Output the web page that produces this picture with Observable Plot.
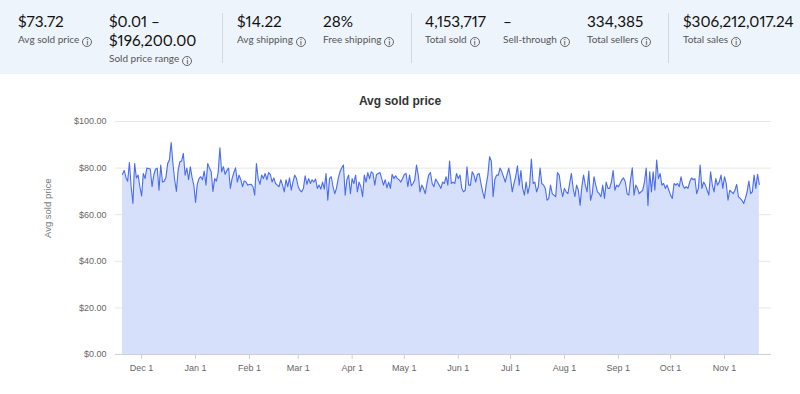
<!DOCTYPE html>
<html><head><meta charset="utf-8">
<script src="https://cdn.jsdelivr.net/npm/d3@7"></script>
<script src="https://cdn.jsdelivr.net/npm/@observablehq/plot@0.6"></script>
<style>
body{margin:0;width:800px;height:394px;overflow:hidden;background:#fff;font-family:"Liberation Sans",Arial,sans-serif;position:relative}
#hdr{position:absolute;left:0;top:0;width:800px;height:74px;background:#eef4fc;font-family:Lato,"Liberation Sans",sans-serif}
.stat{position:absolute;top:12px}
.num{font-size:15.3px;color:#111;line-height:19px;white-space:nowrap;font-variant-numeric:proportional-nums}
.lbl{font-size:10px;color:#555;white-space:nowrap;margin-top:2px;line-height:13px}
.ic{display:inline-block;box-sizing:border-box;width:10px;height:10px;border:1px solid #666;border-radius:50%;font-size:7px;line-height:8px;text-align:center;margin-left:3px;vertical-align:-2px;font-weight:bold;color:#555}
.sep{position:absolute;top:13px;width:1px;height:50px;background:#d3d8df}
#title{position:absolute;top:94px;left:0;width:800px;text-align:center;font-size:12px;font-weight:bold;color:#333}
#chart{position:absolute;left:0;top:110px}
</style></head><body>
<div id="hdr"></div>
<div id="title"></div>
<div id="chart"></div>
<script>
// ---- header stats ----
const statValues = ["$73.72", "$0.01 –\n$196,200.00", "$14.22", "28%", "4,153,717", "–", "334,385", "$306,212,017.24"];
const statLabels = ["Avg sold price", "Sold price range", "Avg shipping", "Free shipping", "Total sold", "Sell-through", "Total sellers", "Total sales"];
const statX = [18, 109, 237, 323, 425, 503, 587, 683];
const separatorX = [222, 411, 668];

// ---- chart ----
const chartTitle = "Avg sold price";
const yLabel = "Avg sold price";
const startDate = [2022, 10, 20]; // Nov 20, 2022 (UTC)
const yTicks = [0, 20, 40, 60, 80, 100];
const avgSoldPrice = [
 77.3,79,76,74.4,82.4,72,64.8,82,75.8,77,72,68,77.7,75.5,80,79.8,79.6,72,77,79.5,
 80,70.5,81.3,74,74.4,76,82,83.5,91,82,75,70,79,82.7,83,86.3,77,80,75,80.6,
 76,72.7,65.3,73,75.5,76.3,75,78.7,72.7,82,80,78.4,70,75.5,74.4,78,88.7,78.4,80.6,77.3,
 79,80,71.3,75.5,78,80.1,74,77,75,72,74.5,74,72.7,73,
 73,72,68.4,82,75.5,73,77,75.5,77.7,75,78.1,77.3,74,75.8,73.4,72.7,72,75,72.7,69.8,
 75,72,75.8,70.5,74,77,75.5,72,70.5,69.8,71.3,76.7,73,75.5,73.4,75,74,75.3,71.3,72.7,
 71,74,71,77.7,66.2,75.5,76.3,72,69,71.3,75.5,78.4,80,81.3,68.4,75,77,69,75.5,73.4,
 77,69.8,74,72,67.7,77,74,78.1,75.5,78.4,77.7,72.7,77.3,
 77.7,78.1,75.5,72.7,75,71.5,74,71.3,77.3,75.5,76.7,75.5,75,74,75.5,77.3,77.7,72,77,72.4,
 73.4,75,81.3,77,69.8,72.7,71.3,69,73.4,77,78.1,73.4,72,75.3,74,72.7,71.3,74,73.4,76.3,
 72.7,83,73.4,74,73.4,77.7,75.5,77,71.3,69.8,70.5,80.6,72.7,72.7,78.4,77,74,77.3,77.7,73.4,
 69.8,67,72.7,77,84.9,83,67.7,75,77,77,80,78.4,76.3,74,
 77,80,76,69.8,73.4,76.3,81,72.7,79,71.3,68.4,74,69,72.7,83.9,73.4,74,69.8,72,80,
 73.4,72.7,71.3,66.2,67,72.7,69,68.4,67.7,78.1,77,71.3,67.7,71.3,69.8,69,73.4,77.7,71.3,67.7,
 72.7,70.5,64,72,77,72.7,69.8,78.7,66.2,69,76.3,72.7,69.8,69,67.7,72.7,67,74,71.3,71.3,
 74,79,70.5,72.7,72,73.4,75,75.8,74,69,68.4,75,80.1,
 68.4,72.7,71.3,69,69.8,70.5,74,80,64,78.4,69.8,78.4,70.5,83.5,75.5,77.7,72.7,73.4,71.3,72.7,
 70.5,68.4,67,73.4,72.7,73.4,72,76.3,72.7,71.3,72,71.3,74,75.8,75,75.5,69,71.3,81.3,71.3,
 74,72.7,70.5,68.4,78.4,72.7,69.8,75.5,72.7,74,77,71.3,76.3,73.4,66.2,70.5,69.8,69,70.5,73,
 67.7,67,66.2,64.8,67,69.8,74.4,69,69.8,77,71.3,77.3,73
];

// header
const hdr = document.getElementById("hdr");
statValues.forEach((v, i) => {
  const d = document.createElement("div");
  d.className = "stat";
  d.style.left = statX[i] + "px";
  v.split("\n").forEach(line => {
    const n = document.createElement("div");
    n.className = "num"; n.textContent = line; d.appendChild(n);
  });
  const l = document.createElement("div");
  l.className = "lbl";
  l.textContent = statLabels[i];
  const ic = document.createElement("span");
  ic.className = "ic"; ic.textContent = "i";
  l.appendChild(ic);
  d.appendChild(l);
  hdr.appendChild(d);
});
separatorX.forEach(x => {
  const s = document.createElement("div");
  s.className = "sep"; s.style.left = x + "px"; hdr.appendChild(s);
});
document.getElementById("title").textContent = chartTitle;

const data = avgSoldPrice.map((v, i) => ({date: new Date(Date.UTC(startDate[0], startDate[1], startDate[2] + i)), value: v}));
const xTicks = d3.utcMonth.range(new Date(Date.UTC(2022, 11, 1)), new Date(Date.UTC(2023, 10, 2)));

const chart = Plot.plot({
  width: 800, height: 284,
  marginLeft: 115, marginRight: 29, marginTop: 11, marginBottom: 40,
  style: {fontFamily: "Liberation Sans, Arial, sans-serif", fontSize: "9px", color: "#666", background: "transparent"},
  x: {type: "utc", domain: [new Date(Date.UTC(2022, 10, 16)), new Date(Date.UTC(2023, 10, 28))]},
  y: {domain: [0, 100]},
  marks: [
    Plot.gridY(yTicks, {stroke: "#e6e6e6", strokeOpacity: 1}),
    Plot.areaY(data, {x: "date", y: "value", fill: "#d6e0fb"}),
    Plot.lineY(data, {x: "date", y: "value", stroke: "#4a6cf0", strokeWidth: 1.1}),
    Plot.ruleY([0], {stroke: "#cfcfcf"}),
    Plot.axisY(yTicks, {tickSize: 0, tickPadding: 9, tickFormat: d => "$" + d3.format(",.2f")(d), label: null}),
    Plot.axisX(xTicks, {tickSize: 5, tickPadding: 5, stroke: "#cfcfcf", tickFormat: d3.utcFormat("%b %-d"), label: null}),
    Plot.text([yLabel], {frameAnchor: "left", rotate: -90, dx: -68, fill: "#777", fontSize: 9.5})
  ]
});
document.getElementById("chart").appendChild(chart);
</script>
</body></html>
